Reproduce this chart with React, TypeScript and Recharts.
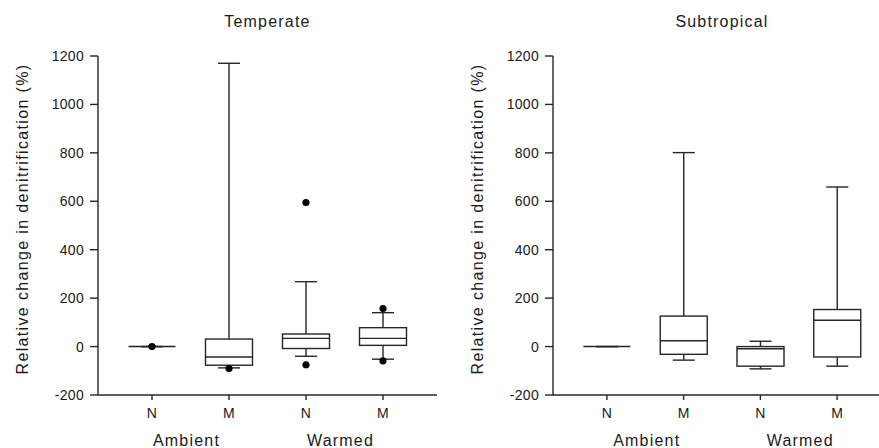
import React from 'react';
import { ComposedChart, Bar, Scatter, XAxis, YAxis } from 'recharts';

const groups = ['aN', 'aM', 'wN', 'wM'];
const tickLabels = ['N', 'M', 'N', 'M'];
const groupLabels = ['Ambient', 'Warmed'];
const yTicks = [-200, 0, 200, 400, 600, 800, 1000, 1200];

// Temperate
const tMin = [0, -88, -40, -52];
const tQ1 = [0, -77, -8, 5];
const tMed = [0, -43, 34, 34];
const tQ3 = [0, 31, 52, 78];
const tMax = [0, 1170, 268, 140];
const tOutGroup = ['aN', 'aM', 'wN', 'wN', 'wM', 'wM'];
const tOutValue = [0, -91, 595, -75, 157, -59];

// Subtropical
const sMin = [0, -56, -92, -81];
const sQ1 = [0, -32, -81, -43];
const sMed = [0, 24, -9, 109];
const sQ3 = [0, 126, 0, 153];
const sMax = [0, 801, 22, 659];
const sOutGroup: string[] = [];
const sOutValue: number[] = [];

const INK = '#262626';
const FONT = '"Liberation Sans", Arial, sans-serif';
const BOX_W = 47;
const CAP_W = 22;
const H = 448;
const PAD = 15.5;

const LowerWhisker = (p: any) => {
  const cx = p.x + p.width / 2;
  const top = Math.min(p.y, p.y + p.height);
  const bot = Math.max(p.y, p.y + p.height);
  return <g>
      <line x1={cx} x2={cx} y1={top} y2={bot} stroke={INK} strokeWidth={1.4} />
      <line x1={cx - CAP_W / 2} x2={cx + CAP_W / 2} y1={bot} y2={bot} stroke={INK} strokeWidth={1.4} />
    </g>;
};

const UpperWhisker = (p: any) => {
  const cx = p.x + p.width / 2;
  const top = Math.min(p.y, p.y + p.height);
  const bot = Math.max(p.y, p.y + p.height);
  return <g>
      <line x1={cx} x2={cx} y1={top} y2={bot} stroke={INK} strokeWidth={1.4} />
      <line x1={cx - CAP_W / 2} x2={cx + CAP_W / 2} y1={top} y2={top} stroke={INK} strokeWidth={1.4} />
    </g>;
};

const BoxShape = (p: any) => {
  const top = Math.min(p.y, p.y + p.height);
  const h = Math.abs(p.height);
  if (!h) return <g />;
  return <rect x={p.x} y={top} width={p.width} height={h} fill="none" stroke={INK} strokeWidth={1.4} />;
};

const MedianShape = (p: any) => <line x1={p.cx - BOX_W / 2} x2={p.cx + BOX_W / 2} y1={p.cy} y2={p.cy} stroke={INK} strokeWidth={1.4} />;

const DotShape = (p: any) => <circle cx={p.cx} cy={p.cy} r={3.6} fill="#000" />;

type PanelProps = {
  title: string;
  left: number;
  width: number;
  marginLeft: number;
  marginRight: number;
  groupShift: number;
  min: number[];
  q1: number[];
  med: number[];
  q3: number[];
  max: number[];
  outGroup: string[];
  outValue: number[];
};

function Panel(props: PanelProps) {
  const { title, left, width, marginLeft, marginRight, groupShift } = props;
  const data = groups.map((g, i) => ({
    g,
    base: props.min[i],
    lo: props.q1[i] - props.min[i],
    box: props.q3[i] - props.q1[i],
    hi: props.max[i] - props.q3[i],
    median: props.med[i]
  }));
  const outliers = props.outGroup.map((g, i) => ({ g, v: props.outValue[i] }));
  const yAxisW = 60;
  const plotLeft = marginLeft + yAxisW;
  const plotW = width - plotLeft - marginRight;
  const bw = (plotW - 2 * PAD) / groups.length;
  const tickStyle = { fill: '#1a1a1a', fontSize: 14, fontFamily: FONT, letterSpacing: 0.3 };
  const textStyle: React.CSSProperties = {
    position: 'absolute',
    fontFamily: FONT,
    fontSize: 16,
    letterSpacing: 1.2,
    color: '#1a1a1a',
    lineHeight: '16px',
    whiteSpace: 'nowrap',
    transform: 'translateX(-50%)'
  };
  return <div style={{ position: 'absolute', left, top: 0, width, height: H }}>
      <ComposedChart width={width} height={H} data={data} margin={{ top: 56, right: marginRight, left: marginLeft, bottom: 23 }} barGap={0}>
        <XAxis dataKey="g" allowDuplicatedCategory={false} interval={0} padding={{ left: PAD, right: PAD }} height={30} tickSize={5} tickMargin={8} tickFormatter={(v: string) => tickLabels[groups.indexOf(v)]} stroke={INK} strokeWidth={1.4} tick={tickStyle} />
        <XAxis xAxisId="frameTop" orientation="top" dataKey="g" allowDuplicatedCategory={false} height={0} tick={false} tickLine={false} stroke={INK} strokeWidth={1.4} />
        <YAxis type="number" domain={[-200, 1200]} ticks={yTicks} interval={0} allowDataOverflow width={yAxisW} tickSize={8} tickMargin={6} stroke={INK} strokeWidth={1.4} tick={tickStyle} />
        <YAxis yAxisId="frameRight" orientation="right" type="number" domain={[-200, 1200]} width={0} tick={false} tickLine={false} stroke={INK} strokeWidth={1.6} />
        <Bar dataKey="base" stackId="b" barSize={BOX_W} fill="none" isAnimationActive={false} />
        <Bar dataKey="lo" stackId="b" barSize={BOX_W} shape={LowerWhisker} isAnimationActive={false} />
        <Bar dataKey="box" stackId="b" barSize={BOX_W} shape={BoxShape} isAnimationActive={false} />
        <Bar dataKey="hi" stackId="b" barSize={BOX_W} shape={UpperWhisker} isAnimationActive={false} />
        <Scatter dataKey="median" shape={MedianShape} isAnimationActive={false} />
        {outliers.length > 0 && <Scatter data={outliers} dataKey="v" shape={DotShape} isAnimationActive={false} />}
      </ComposedChart>
      <div style={{ ...textStyle, left: plotLeft + plotW / 2, top: 14 }}>{title}</div>
      <div style={{ ...textStyle, left: plotLeft - 75, top: 219, transform: 'translate(-50%, -50%) rotate(-90deg)', letterSpacing: 1.35 }}>
        Relative change in denitrification (%)
      </div>
      {groupLabels.map((label, k) => <div key={label} style={{ ...textStyle, left: plotLeft + PAD + bw * (2 * k + 1) + groupShift, top: 433 }}>
          {label}
        </div>)}
    </div>;
}

export default function App() {
  return <div style={{ position: 'absolute', left: 0, top: 0, width: 879, height: H, overflow: 'hidden', background: '#fff' }}>
      <Panel title="Temperate" left={0} width={440} marginLeft={38} marginRight={3} groupShift={-4} min={tMin} q1={tQ1} med={tMed} q3={tQ3} max={tMax} outGroup={tOutGroup} outValue={tOutValue} />
      <Panel title="Subtropical" left={440} width={455} marginLeft={53} marginRight={4} groupShift={1.5} min={sMin} q1={sQ1} med={sMed} q3={sQ3} max={sMax} outGroup={sOutGroup} outValue={sOutValue} />
    </div>;
}
